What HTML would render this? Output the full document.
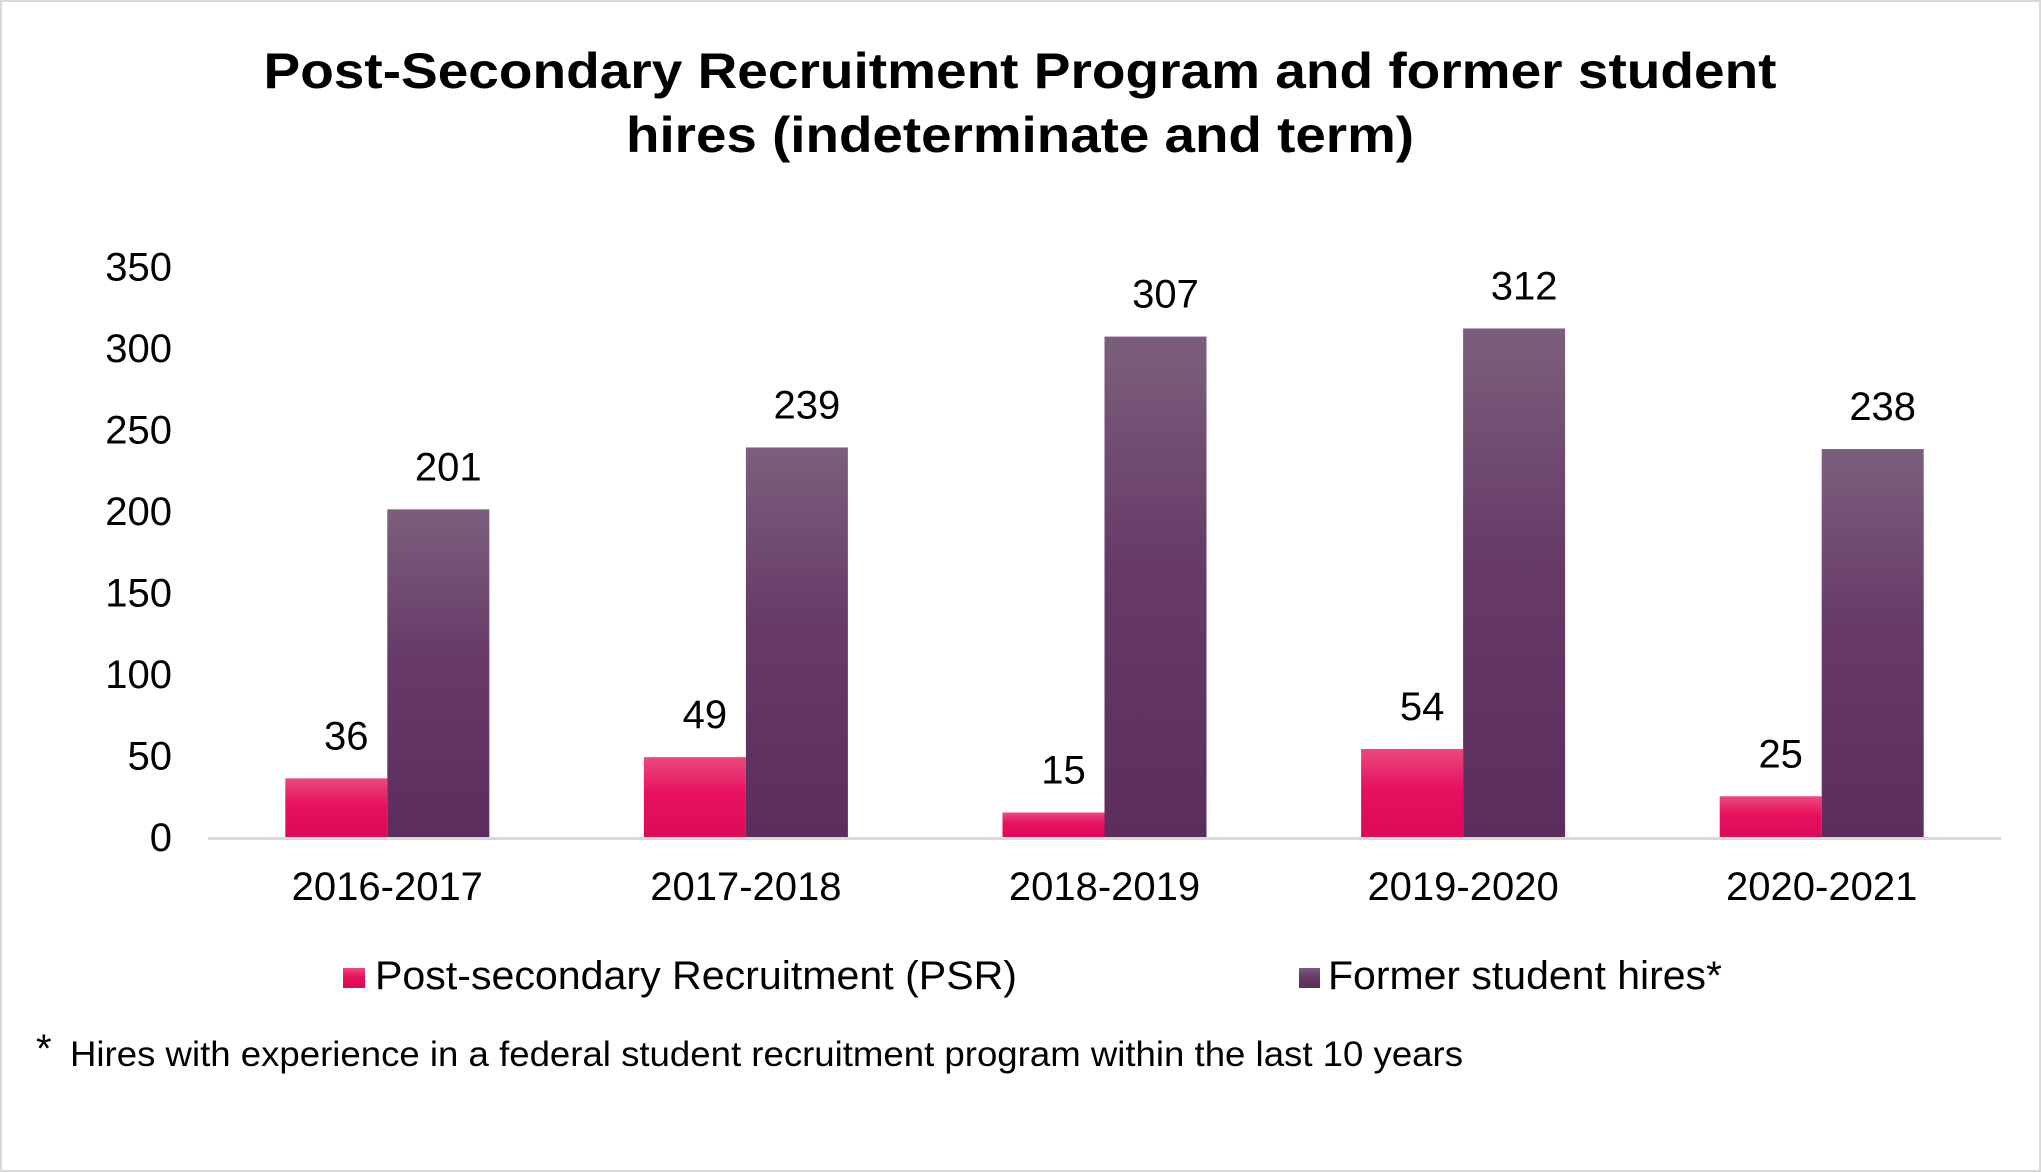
<!DOCTYPE html>
<html><head><meta charset="utf-8"><style>
html,body{margin:0;padding:0;background:#fff}
svg{display:block;font-family:"Liberation Sans",Arial,sans-serif}
</style></head><body>
<svg id="chart" width="2041" height="1172" viewBox="0 0 2041 1172">
<defs>
<linearGradient id="gPink" x1="0" y1="0" x2="0" y2="1">
<stop offset="0" stop-color="#e84b7c"/><stop offset="0.45" stop-color="#e8105f"/><stop offset="1" stop-color="#dc0a58"/>
</linearGradient>
<linearGradient id="gPurple" x1="0" y1="0" x2="0" y2="1">
<stop offset="0" stop-color="#7c5f7c"/><stop offset="0.45" stop-color="#673a68"/><stop offset="1" stop-color="#5c2d5d"/>
</linearGradient>
</defs>
<rect x="1" y="1" width="2039" height="1170" fill="#fff" stroke="#d9d9d9" stroke-width="2"/>
<text x="1020" y="88" text-anchor="middle" font-size="50" font-weight="bold" textLength="1513" lengthAdjust="spacingAndGlyphs">Post-Secondary Recruitment Program and former student</text>
<text x="1020" y="152" text-anchor="middle" font-size="50" font-weight="bold" textLength="788" lengthAdjust="spacingAndGlyphs">hires (indeterminate and term)</text>
<g id="yaxis"></g>
<g id="bars"></g>
<g id="xaxis"></g>
<g>
<g>
<rect x="343" y="968" width="22" height="20" fill="url(#gPink)"/>
<text x="375" y="989" font-size="40" textLength="642" lengthAdjust="spacingAndGlyphs">Post-secondary Recruitment (PSR)</text>
</g>
<g>
<rect x="1299" y="968" width="21" height="20" fill="url(#gPurple)"/>
<text x="1328" y="989" font-size="40" textLength="394" lengthAdjust="spacingAndGlyphs">Former student hires*</text>
</g>
</g>
<text x="36" y="1062" font-size="40">*</text>
<text x="70" y="1066" font-size="35" textLength="1393" lengthAdjust="spacingAndGlyphs">Hires with experience in a federal student recruitment program within the last 10 years</text>
</svg>
<script>
const categories = ["2016-2017","2017-2018","2018-2019","2019-2020","2020-2021"];
const psrValues = [36,49,15,54,25];
const formerValues = [201,239,307,312,238];
const yTicks = [0,50,100,150,200,250,300,350];

const NS = "http://www.w3.org/2000/svg";
const plotLeft = 208, plotRight = 2001, baseY = 837, pxPerUnit = 1.63, barW = 102;
const slot = (plotRight - plotLeft) / categories.length;
function yScale(v){ return baseY - v * pxPerUnit; }
function xCenter(i){ return plotLeft + slot * (i + 0.5); }
function mk(tag, attrs, parent){
  const e = document.createElementNS(NS, tag);
  for (const k in attrs) e.setAttribute(k, attrs[k]);
  parent.appendChild(e);
  return e;
}
const yaxis = document.getElementById('yaxis');
yTicks.forEach(t => {
  const tx = mk('text', {x:172, y:yScale(t)+14, 'text-anchor':'end', 'font-size':40}, yaxis);
  tx.textContent = t;
  
  
});
const bars = document.getElementById('bars');
const xaxis = document.getElementById('xaxis');
categories.forEach((c, i) => {
  const cx = xCenter(i);
  const series = [[psrValues[i], 'url(#gPink)', cx - barW, 'psr'], [formerValues[i], 'url(#gPurple)', cx, 'former']];
  series.forEach(([v, fill, x, key]) => {
    const r = mk('rect', {x:x, y:yScale(v), width:barW, height:v*pxPerUnit, fill:fill}, bars);
    
    
    const lb = mk('text', {x:x + barW/2 + 10, y:yScale(v) - 29, 'text-anchor':'middle', 'font-size':40}, bars);
    lb.textContent = v;
    
    
  });
  const cl = mk('text', {x:cx, y:900, 'text-anchor':'middle', 'font-size':40}, xaxis);
  cl.textContent = c;
  
  
});
const ax = mk('line', {x1:plotLeft, x2:plotRight, y1:baseY+1.5, y2:baseY+1.5, stroke:'#d9d9d9', 'stroke-width':3}, xaxis);


</script>
</body></html>
